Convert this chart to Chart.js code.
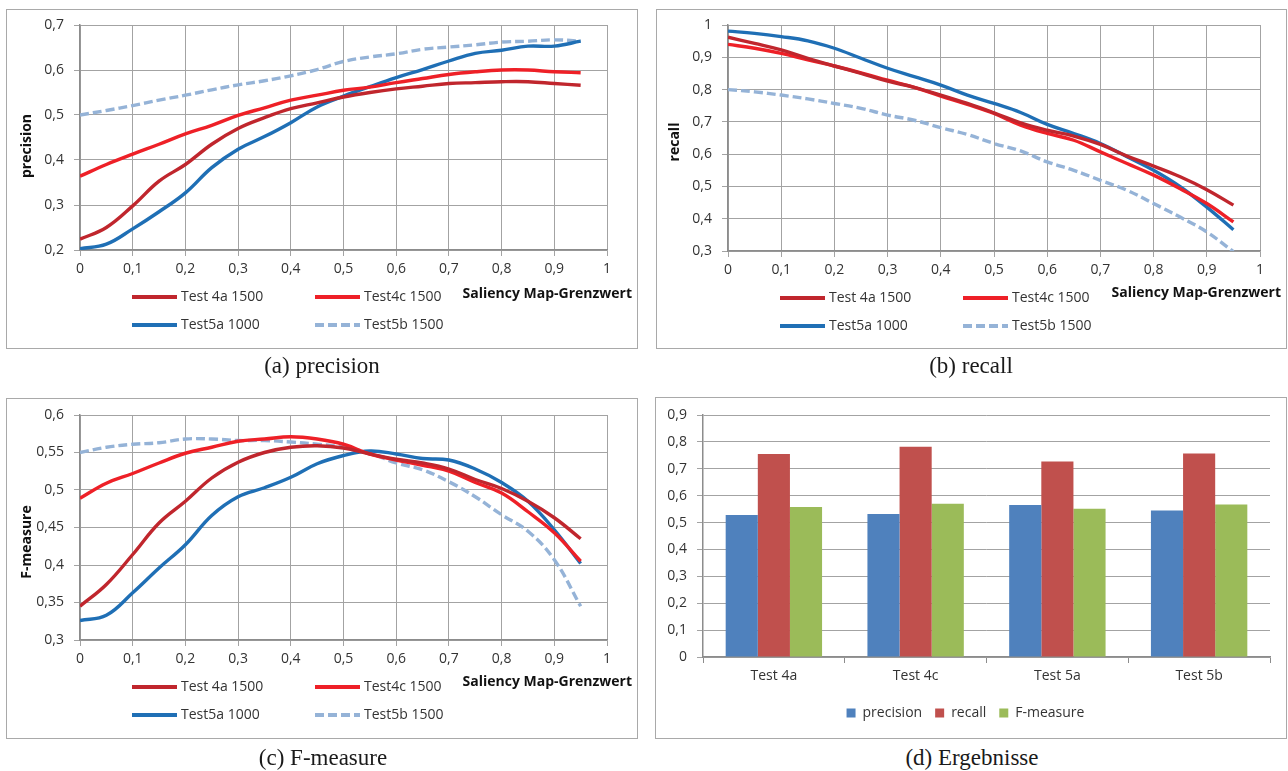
<!DOCTYPE html>
<html><head><meta charset="utf-8">
<script src="https://cdn.jsdelivr.net/npm/chart.js@4"></script>
<style>
body{margin:0;background:#fff;width:1288px;height:771px;overflow:hidden;position:relative;}
.box{position:absolute;border:1.5px solid #a9a9a9;box-sizing:border-box;}
canvas{position:absolute;}
.cap{position:absolute;font-family:'Liberation Serif','Times New Roman',serif;font-size:23px;line-height:24px;color:#1a1a1a;transform:translateX(-50%);white-space:nowrap;}
</style></head><body>
<div class="box" style="left:6px;top:9px;width:632px;height:340px"></div>
<div class="box" style="left:656px;top:9px;width:631px;height:340px"></div>
<div class="box" style="left:6px;top:398px;width:632px;height:341px"></div>
<div class="box" style="left:655px;top:397px;width:632px;height:342px"></div>
<canvas id="ca" width="644" height="390" style="left:0;top:0"></canvas>
<canvas id="cb" width="640" height="390" style="left:648px;top:0"></canvas>
<canvas id="cc" width="644" height="381" style="left:0;top:390px"></canvas>
<canvas id="cd" width="640" height="340" style="left:648px;top:390px"></canvas>
<div class="cap" style="left:322px;top:354px">(a) precision</div>
<div class="cap" style="left:971px;top:354px">(b) recall</div>
<div class="cap" style="left:323px;top:746px">(c) F-measure</div>
<div class="cap" style="left:972px;top:746px">(d) Ergebnisse</div>
<script>
// ---- data ----
const thresholds = [0,0.05,0.1,0.15,0.2,0.25,0.3,0.35,0.4,0.45,0.5,0.55,0.6,0.65,0.7,0.75,0.8,0.85,0.9,0.95];
const seriesNames = ['Test 4a 1500','Test4c 1500','Test5a 1000','Test5b 1500'];

const precision4a = [0.224,0.250,0.298,0.353,0.390,0.435,0.470,0.494,0.514,0.527,0.540,0.550,0.558,0.564,0.570,0.572,0.574,0.574,0.570,0.566];
const precision4c = [0.364,0.390,0.413,0.435,0.458,0.477,0.499,0.516,0.533,0.544,0.555,0.562,0.572,0.581,0.590,0.596,0.600,0.600,0.596,0.594];
const precision5a = [0.203,0.213,0.247,0.285,0.327,0.383,0.424,0.452,0.483,0.518,0.542,0.563,0.583,0.601,0.620,0.637,0.644,0.653,0.653,0.664];
const precision5b = [0.500,0.510,0.521,0.533,0.544,0.556,0.567,0.576,0.587,0.601,0.619,0.629,0.636,0.646,0.651,0.656,0.662,0.664,0.667,0.664];

const recall4a = [0.962,0.943,0.923,0.897,0.873,0.850,0.826,0.807,0.783,0.757,0.728,0.697,0.674,0.656,0.630,0.594,0.563,0.530,0.490,0.442];
const recall4c = [0.940,0.928,0.912,0.892,0.873,0.852,0.829,0.807,0.780,0.754,0.726,0.690,0.664,0.643,0.607,0.571,0.535,0.493,0.447,0.390];
const recall5a = [0.981,0.974,0.964,0.951,0.928,0.897,0.866,0.840,0.814,0.783,0.757,0.729,0.692,0.664,0.633,0.592,0.550,0.499,0.436,0.366];
const recall5b = [0.800,0.793,0.783,0.771,0.757,0.742,0.721,0.705,0.682,0.661,0.633,0.610,0.576,0.550,0.519,0.488,0.447,0.405,0.359,0.298];

const fmeasure4a = [0.345,0.374,0.414,0.456,0.485,0.516,0.537,0.550,0.557,0.559,0.556,0.548,0.541,0.536,0.528,0.514,0.502,0.485,0.463,0.435];
const fmeasure4c = [0.489,0.509,0.522,0.536,0.549,0.557,0.565,0.568,0.571,0.568,0.561,0.548,0.540,0.533,0.525,0.510,0.496,0.471,0.443,0.405];
const fmeasure5a = [0.326,0.333,0.363,0.396,0.427,0.466,0.491,0.503,0.517,0.535,0.546,0.552,0.548,0.542,0.540,0.528,0.510,0.485,0.447,0.402];
const fmeasure5b = [0.550,0.557,0.561,0.563,0.568,0.568,0.566,0.566,0.564,0.561,0.557,0.549,0.536,0.527,0.511,0.491,0.467,0.445,0.407,0.345];

const testCategories = ['Test 4a','Test 4c','Test 5a','Test 5b'];
const barSeriesNames = ['precision','recall','F-measure'];
const avgPrecision = [0.528,0.532,0.565,0.545];
const avgRecall = [0.755,0.782,0.727,0.757];
const avgFmeasure = [0.558,0.570,0.551,0.567];

// ---- styling ----
const FONT = "'Open Sans', 'DejaVu Sans', sans-serif";
Chart.defaults.font.family = FONT;
Chart.defaults.font.size = 14;
Chart.defaults.color = '#333';
const lineColors = ['#C0262D','#EE2027','#1F6FB5','#95B3D7'];
const lineDashes = [[],[],[],[9,4]];
const barColors = ['#4F81BD','#C0504D','#9BBB59'];
const GRID = '#a3a3a3';
const AXIS = '#8c8c8c';

const fmt = v => (Math.round(v*100)/100).toString().replace('.', ',');

function makeExtras(cfg){
  return {
    id:'extras',
    afterDraw(chart){
      const ctx = chart.ctx, ca = chart.chartArea;
      ctx.save();
      ctx.font = "bold 14px " + FONT;
      ctx.fillStyle = '#111';
      ctx.textAlign = 'right'; ctx.textBaseline = 'middle';
      ctx.fillText(cfg.xTitle, cfg.xTitleX, cfg.xTitleY);
      ctx.save();
      ctx.translate(cfg.yTitleX, cfg.yTitleY);
      ctx.rotate(-Math.PI/2);
      ctx.textAlign = 'center';
      ctx.fillText(cfg.yTitle, 0, 0);
      ctx.restore();
      ctx.font = "14px " + FONT;
      ctx.textAlign = 'left';
      chart.data.datasets.forEach((ds,i)=>{
        const col = i % 2, row = Math.floor(i/2);
        const x0 = col === 0 ? 132 : 315;
        const y = ca.bottom + (row === 0 ? 47 : 75);
        ctx.beginPath();
        ctx.strokeStyle = ds.borderColor;
        ctx.lineWidth = 4;
        ctx.setLineDash(ds.borderDash || []);
        ctx.moveTo(x0, y); ctx.lineTo(x0 + 45, y);
        ctx.stroke();
        ctx.setLineDash([]);
        ctx.fillStyle = '#333';
        ctx.fillText(ds.label, x0 + 49, y);
      });
      ctx.restore();
    }
  };
}

function lineChart(id, seriesValues, yMin, yMax, yStep, cfg){
  return new Chart(document.getElementById(id), {
    type:'line',
    data:{
      datasets: seriesValues.map((vals,i)=>({
        label: seriesNames[i],
        data: thresholds.map((t,j)=>({x:t, y:vals[j]})),
        borderColor: lineColors[i],
        backgroundColor: lineColors[i],
        borderDash: lineDashes[i],
        borderWidth: 3.4,
        pointRadius: 0,
        tension: 0.4,
        fill: false
      }))
    },
    options:{
      responsive:false, animation:false, events:[],
      layout:{padding:{left:0, right:cfg.padRight, top:25, bottom:0}},
      plugins:{legend:{display:false}, tooltip:{enabled:false}},
      scales:{
        x:{type:'linear', min:0, max:1,
          ticks:{stepSize:0.1, callback:fmt, padding:5, maxRotation:0, color:'#333'},
          grid:{color:GRID, lineWidth:1, tickLength:6},
          border:{color:AXIS, width:1.5},
          afterFit:s=>{s.height = cfg.xHeight;}
        },
        y:{min:yMin, max:yMax,
          ticks:{stepSize:yStep, callback:fmt, padding:10, color:'#333'},
          grid:{color:GRID, lineWidth:1, tickLength:6},
          border:{color:AXIS, width:1.5},
          afterFit:s=>{s.width = 80;}
        }
      }
    },
    plugins:[makeExtras(cfg)]
  });
}

lineChart('ca', [precision4a, precision4c, precision5a, precision5b], 0.2, 0.7, 0.1,
  {padRight:37, xHeight:140, xTitle:'Saliency Map-Grenzwert', xTitleX:632, xTitleY:294, yTitle:'precision', yTitleX:27, yTitleY:146});
lineChart('cb', [recall4a, recall4c, recall5a, recall5b], 0.3, 1, 0.1,
  {padRight:28, xHeight:139, xTitle:'Saliency Map-Grenzwert', xTitleX:633, xTitleY:293, yTitle:'recall', yTitleX:27, yTitleY:142});
lineChart('cc', [fmeasure4a, fmeasure4c, fmeasure5a, fmeasure5b], 0.3, 0.6, 0.05,
  {padRight:37, xHeight:131, xTitle:'Saliency Map-Grenzwert', xTitleX:632, xTitleY:292, yTitle:'F-measure', yTitleX:27, yTitleY:152});

new Chart(document.getElementById('cd'), {
  type:'bar',
  data:{
    labels: testCategories,
    datasets: [avgPrecision, avgRecall, avgFmeasure].map((vals,i)=>({
      label: barSeriesNames[i],
      data: vals,
      backgroundColor: barColors[i],
      borderWidth: 0,
      categoryPercentage: 0.68,
      barPercentage: 1.0
    }))
  },
  options:{
    responsive:false, animation:false, events:[],
    layout:{padding:{left:13, right:18, top:25, bottom:0}},
    plugins:{
      tooltip:{enabled:false},
      legend:{position:'bottom', labels:{boxWidth:9, boxHeight:9, padding:13, color:'#333', font:{size:14}}}
    },
    scales:{
      x:{
        ticks:{padding:5, color:'#333'},
        grid:{display:true, drawOnChartArea:false, drawTicks:true, tickLength:6, color:AXIS, lineWidth:1},
        border:{display:true, color:AXIS, width:1.5},
        afterFit:s=>{s.height = 36;}
      },
      y:{min:0, max:0.9,
        ticks:{stepSize:0.1, callback:fmt, padding:10, color:'#333'},
        grid:{color:GRID, lineWidth:1, tickLength:6},
        border:{color:AXIS, width:1.5},
        afterFit:s=>{s.width = 42;}
      }
    }
  }
});
</script>
</body></html>
